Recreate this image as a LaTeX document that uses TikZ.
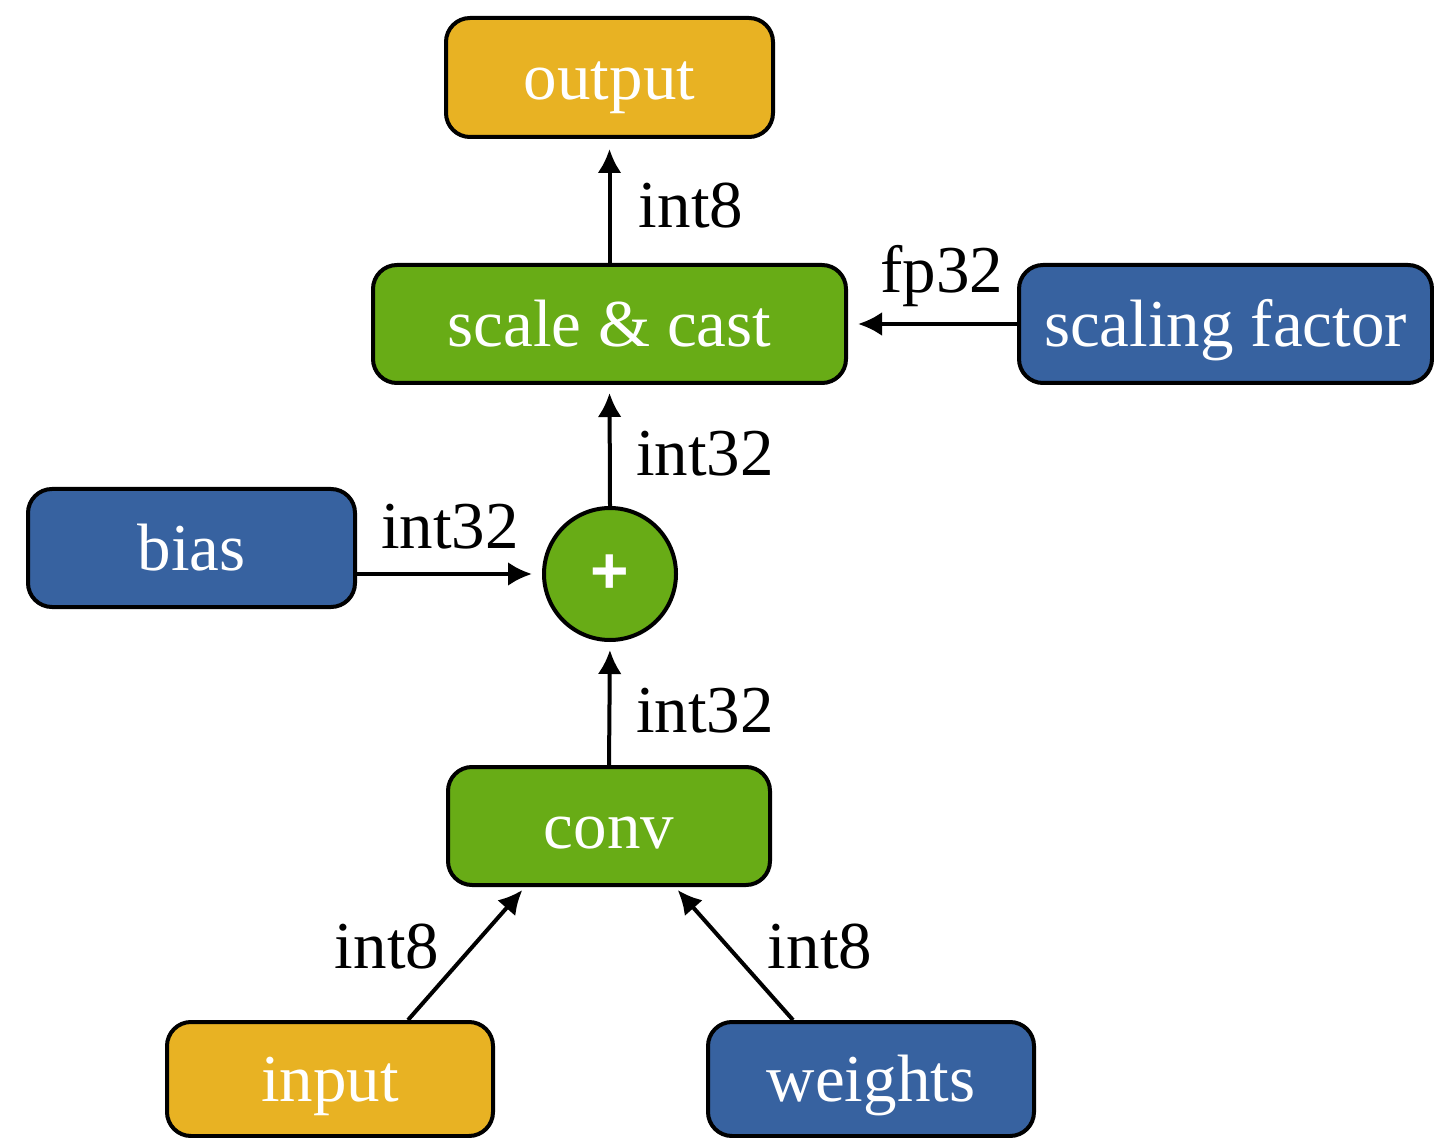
\documentclass[tikz,border=0pt]{standalone}
\usepackage{fontspec}
\setmainfont{Liberation Serif}
\newfontfamily\plusfont{Liberation Sans}
\usetikzlibrary{arrows.meta,calc}

\definecolor{boxgold}{HTML}{E8B223}
\definecolor{boxgreen}{HTML}{68AC16}
\definecolor{boxblue}{HTML}{3762A0}

\tikzset{
  block/.style={draw=black, line width=2pt, rounded corners=12pt,
    inner sep=0pt, text=white, text height=30.8pt, text depth=8.7pt,
    font=\fontsize{33.5}{40}\selectfont},
  dataop/.style={block, fill=boxgreen},
  datain/.style={block, fill=boxgold},
  param/.style={block, fill=boxblue},
  adder/.style={circle, draw=black, line width=2pt, fill=boxgreen,
    minimum size=66pt, inner sep=0pt, text=white,
    font=\plusfont\bfseries\fontsize{33}{40}\selectfont},
  flow/.style={line width=2pt, -{Latex[length=12pt,width=12pt]}},
  dtype/.style={anchor=base, inner sep=0pt,
    font=\fontsize{33.5}{40}\selectfont}
}

\begin{document}
\begin{tikzpicture}[x=0.5pt, y=-0.5pt]
  \useasboundingbox (0,0) rectangle (1434,1138);

  % operators and tensors
  \node[datain, minimum width=163.5pt, minimum height=59.5pt] (out) at (609.5,77.5) {output};
  \node[dataop, minimum width=236.5pt, minimum height=59pt] (scale) at (609.5,324) {scale \& cast};
  \node[param, minimum width=206.5pt, minimum height=59pt] (sf) at (1225.5,324) {scaling factor};
  \node[param, minimum width=163.5pt, minimum height=59pt] (bias) at (191.5,548) {bias};
  \node[adder] (plus) at (610,574) {+};
  \node[dataop, minimum width=161pt, minimum height=59pt] (conv) at (609,826) {conv};
  \node[datain, minimum width=163pt, minimum height=57pt] (in) at (330,1079) {input};
  \node[param, minimum width=163pt, minimum height=57pt] (w) at (871,1079) {weights};

  % data flow
  \draw[flow, shorten >=5pt] (scale.north) -- (out.south);
  \draw[flow, shorten >=5pt] (sf.west) -- (scale.east);
  \draw[flow, shorten >=4pt] (plus.north) -- (scale.south);
  \draw[flow, shorten >=5pt] (plus.west -| bias.east) -- (plus.west);
  \draw[flow, shorten >=4pt] (conv.north) -- (plus.south);
  \draw[flow, shorten >=2pt] ($(in.north)+(78,0)$) -- ($(conv.south)+(-84,0)$);
  \draw[flow, shorten >=2pt] ($(w.north)+(-78,0)$) -- ($(conv.south)+(66,0)$);

  % data types on the connectors
  \node[dtype] (t1) at (691,228) {int8};
  \node[dtype] (t2) at (942,293) {fp32};
  \node[dtype] (t3) at (705,476) {int32};
  \node[dtype] (t4) at (450,548) {int32};
  \node[dtype] (t5) at (705,732) {int32};
  \node[dtype] (t6) at (387,968) {int8};
  \node[dtype] (t7) at (820,968) {int8};
\end{tikzpicture}
\end{document}
